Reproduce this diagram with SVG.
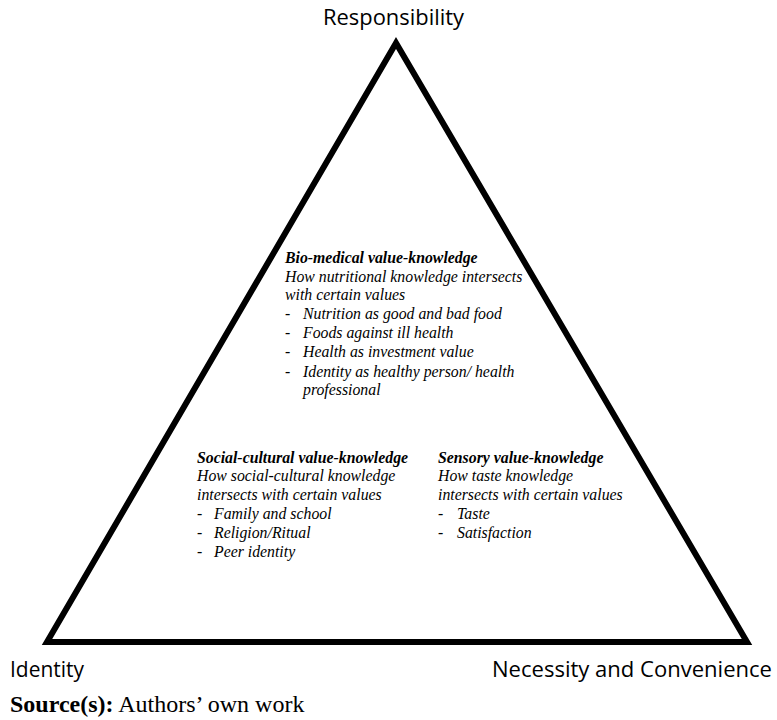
<svg xmlns="http://www.w3.org/2000/svg" width="777" height="720" viewBox="0 0 777 720">
<style>
.lbl{font-family:"Open Sans","Liberation Sans",sans-serif;font-size:21px;fill:#000}
.t{font-family:"Liberation Serif","Times New Roman",serif;font-size:15.8px;font-style:italic;fill:#000}
.b{font-weight:bold}
.src{font-family:"Liberation Serif","Times New Roman",serif;font-size:24px;fill:#000}
</style>
<rect width="777" height="720" fill="#fff"/>
<g id="triangle">
<polygon points="396,43 47,642 747,642" fill="none" stroke="#000" stroke-width="6" stroke-linejoin="miter"/>
</g>
<g id="connectors"></g>
<g id="responsibility"><text class="lbl" x="323" y="25" textLength="141" lengthAdjust="spacingAndGlyphs">Responsibility</text></g>
<g id="identity"><text class="lbl" x="10" y="677" textLength="74" lengthAdjust="spacingAndGlyphs">Identity</text></g>
<g id="necessity"><text class="lbl" x="492" y="677" textLength="280" lengthAdjust="spacingAndGlyphs">Necessity and Convenience</text></g>
<g id="biomedical">
<text class="t b" x="285" y="263">Bio-medical value-knowledge</text>
<text class="t" x="285" y="282">How nutritional knowledge intersects</text>
<text class="t" x="285" y="300">with certain values</text>
<text class="t" x="285" y="319">-</text><text class="t" x="303" y="319">Nutrition as good and bad food</text>
<text class="t" x="285" y="338">-</text><text class="t" x="303" y="338">Foods against ill health</text>
<text class="t" x="285" y="357">-</text><text class="t" x="303" y="357">Health as investment value</text>
<text class="t" x="285" y="377">-</text><text class="t" x="303" y="377">Identity as healthy person/ health</text>
<text class="t" x="303" y="395">professional</text>
</g>
<g id="socialcultural">
<text class="t b" x="197" y="463">Social-cultural value-knowledge</text>
<text class="t" x="197" y="481">How social-cultural knowledge</text>
<text class="t" x="197" y="500">intersects with certain values</text>
<text class="t" x="197" y="519">-</text><text class="t" x="214" y="519">Family and school</text>
<text class="t" x="197" y="538">-</text><text class="t" x="214" y="538">Religion/Ritual</text>
<text class="t" x="197" y="557">-</text><text class="t" x="214" y="557">Peer identity</text>
</g>
<g id="sensory">
<text class="t b" x="438" y="463">Sensory value-knowledge</text>
<text class="t" x="438" y="481">How taste knowledge</text>
<text class="t" x="438" y="500">intersects with certain values</text>
<text class="t" x="438" y="519">-</text><text class="t" x="457" y="519">Taste</text>
<text class="t" x="438" y="538">-</text><text class="t" x="457" y="538">Satisfaction</text>
</g>
<g id="source"><text class="src" x="10" y="712"><tspan font-weight="bold">Source(s):</tspan> Authors’ own work</text></g>
</svg>
